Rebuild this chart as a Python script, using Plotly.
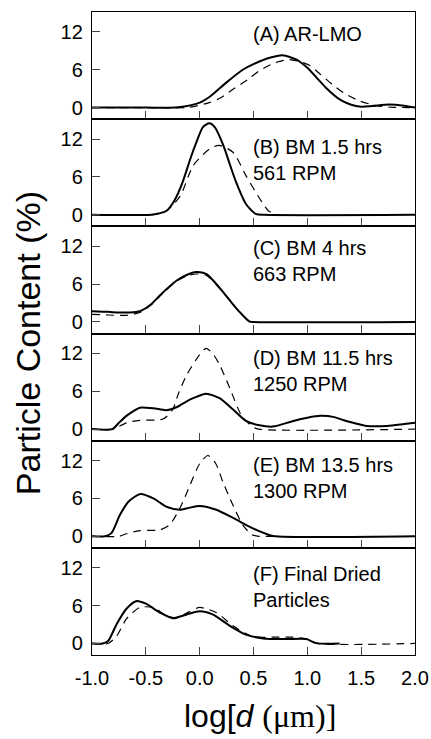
import plotly.graph_objects as go
from plotly.subplots import make_subplots

# ---------------- data ----------------
a_x_solid = [-1.0, -0.5, -0.2, 0.0, 0.1, 0.25, 0.4, 0.5, 0.65, 0.77, 0.9, 1.0, 1.17, 1.3, 1.4, 1.5, 1.6, 1.76, 1.9, 2.0]
a_y_solid = [0, 0, 0.05, 0.8, 1.8, 4.0, 6.0, 6.9, 7.9, 8.3, 7.6, 6.3, 3.2, 1.3, 0.5, 0.15, 0.25, 0.5, 0.3, 0]
a_x_dash = [-1.0, -0.5, -0.1, 0.09, 0.2, 0.31, 0.45, 0.56, 0.7, 0.83, 0.95, 1.02, 1.12, 1.23, 1.35, 1.48, 1.64, 1.8, 2.0]
a_y_dash = [0, 0, 0.05, 0.8, 1.6, 2.9, 4.5, 5.9, 7.1, 7.6, 7.2, 6.7, 5.3, 3.7, 2.2, 1.1, 0.3, 0.05, 0]

b_x_solid = [-1.0, -0.45, -0.38, -0.31, -0.23, -0.16, -0.08, -0.03, 0.03, 0.09, 0.14, 0.22, 0.28, 0.34, 0.43, 0.52, 0.6, 2.0]
b_y_solid = [0, 0, 0.2, 0.6, 2.4, 5.1, 9.2, 11.5, 13.9, 14.5, 13.9, 11.0, 8.0, 5.1, 1.7, 0.15, 0, 0]
b_x_dash = [-0.45, -0.31, -0.18, -0.06, 0.09, 0.18, 0.31, 0.43, 0.56, 0.64, 0.72]
b_y_dash = [0, 0.6, 3.0, 7.8, 10.4, 11.0, 9.9, 6.2, 2.5, 0.6, 0]

c_x_solid = [-1.0, -0.85, -0.75, -0.65, -0.556, -0.45, -0.37, -0.21, -0.1, -0.03, 0.06, 0.14, 0.22, 0.3, 0.37, 0.46, 0.5, 2.0]
c_y_solid = [1.7, 1.6, 1.5, 1.5, 1.7, 2.8, 4.2, 6.6, 7.6, 7.9, 7.6, 6.3, 4.7, 3.0, 1.6, 0.1, 0, 0]
c_x_dash = [-1.0, -0.85, -0.68, -0.556, -0.45, -0.37, -0.21, -0.1, -0.03, 0.06, 0.14, 0.22, 0.3, 0.37, 0.46, 0.5]
c_y_dash = [1.2, 1.1, 1.05, 1.5, 2.7, 4.1, 6.5, 7.4, 7.6, 7.4, 6.2, 4.6, 3.0, 1.6, 0.1, 0]

d_x_solid = [-1.0, -0.81, -0.75, -0.68, -0.6, -0.556, -0.43, -0.31, -0.21, -0.12, -0.06, 0.06, 0.185, 0.31, 0.43, 0.556, 0.68, 0.87, 1.0, 1.12, 1.25, 1.34, 1.45, 1.55, 1.74, 1.9, 2.0]
d_y_solid = [0, 0, 1.0, 2.1, 3.0, 3.4, 3.3, 3.0, 3.5, 4.4, 4.9, 5.6, 4.9, 3.1, 1.3, 0.6, 0.4, 1.3, 1.8, 2.1, 1.9, 1.4, 0.9, 0.5, 0.5, 0.8, 1.0]
d_x_dash = [-1.0, -0.81, -0.68, -0.556, -0.34, -0.25, -0.2, -0.12, 0.0, 0.06, 0.12, 0.185, 0.28, 0.39, 0.49, 0.55, 2.0]
d_y_dash = [0, 0, 1.0, 1.4, 1.6, 3.1, 5.5, 8.6, 11.8, 12.8, 12.0, 10.2, 6.5, 2.1, 0.4, 0, 0]

e_x_solid = [-1.0, -0.88, -0.82, -0.74, -0.66, -0.55, -0.43, -0.31, -0.185, -0.1, 0.0, 0.154, 0.31, 0.49, 0.6, 0.68, 2.0]
e_y_solid = [0, 0, 0.5, 3.4, 5.5, 6.7, 6.0, 4.7, 4.2, 4.5, 4.8, 4.2, 2.9, 1.3, 0.5, 0.05, 0]
e_x_dash = [-1.0, -0.75, -0.68, -0.556, -0.37, -0.28, -0.185, -0.09, 0.0, 0.077, 0.15, 0.216, 0.31, 0.4, 0.48, 0.55, 0.7]
e_y_dash = [0, 0, 0.4, 0.9, 1.0, 1.8, 4.4, 8.1, 11.5, 12.8, 11.5, 8.6, 4.9, 1.8, 0.3, 0, 0]

f_x_solid = [-1.0, -0.9, -0.85, -0.77, -0.68, -0.59, -0.5, -0.37, -0.25, -0.12, 0.0, 0.12, 0.28, 0.43, 0.59, 0.8, 0.99, 1.08, 1.3]
f_y_solid = [0, 0, 0.4, 3.1, 5.5, 6.7, 6.3, 4.9, 4.0, 4.6, 5.1, 4.6, 2.8, 1.4, 0.8, 0.7, 0.7, 0.05, 0]
f_x_dash = [-1.0, -0.85, -0.77, -0.68, -0.556, -0.43, -0.31, -0.21, -0.1, 0.0, 0.154, 0.31, 0.49, 0.71, 0.86, 0.99, 1.1, 2.0]
f_y_dash = [0, 0, 1.2, 3.9, 5.7, 5.7, 4.4, 4.1, 5.0, 5.7, 4.9, 2.8, 1.1, 1.0, 1.0, 0.7, 0, 0]

panel_labels = [
    "(A) AR-LMO",
    "(B) BM 1.5 hrs<br>561 RPM",
    "(C) BM 4 hrs<br>663 RPM",
    "(D) BM 11.5 hrs<br>1250 RPM",
    "(E) BM 13.5 hrs<br>1300 RPM",
    "(F) Final Dried<br>Particles",
]
label_y = [11.7, 8.7, 9.6, 9.25, 9.2, 9.0]

x_ticks = [-1.0, -0.5, 0.0, 0.5, 1.0, 1.5, 2.0]
x_tick_text = ["-1.0", "-0.5", "0.0", "0.5", "1.0", "1.5", "2.0"]
y_ticks = [0, 6, 12]

panels = [
    (a_x_solid, a_y_solid, a_x_dash, a_y_dash),
    (b_x_solid, b_y_solid, b_x_dash, b_y_dash),
    (c_x_solid, c_y_solid, c_x_dash, c_y_dash),
    (d_x_solid, d_y_solid, d_x_dash, d_y_dash),
    (e_x_solid, e_y_solid, e_x_dash, e_y_dash),
    (f_x_solid, f_y_solid, f_x_dash, f_y_dash),
]

FONT = "Liberation Sans, Arial, sans-serif"

fig = make_subplots(rows=6, cols=1, shared_xaxes=True, vertical_spacing=0)

for i, (xs, ys, xd, yd) in enumerate(panels):
    r = i + 1
    fig.add_trace(go.Scatter(x=xd, y=yd, mode="lines",
                             line=dict(color="black", width=1.2, dash="8px,6px", shape="spline", smoothing=0.7),
                             showlegend=False, hoverinfo="skip"), row=r, col=1)
    fig.add_trace(go.Scatter(x=xs, y=ys, mode="lines",
                             line=dict(color="black", width=2.0, shape="spline", smoothing=0.7),
                             showlegend=False, hoverinfo="skip"), row=r, col=1)
    fig.update_yaxes(range=[-1.83, 15.15], tickvals=y_ticks, ticks="inside", ticklen=8, tickwidth=1.3,
                     showline=True, mirror=True, linecolor="black", linewidth=1.3, showgrid=False,
                     zeroline=False, tickfont=dict(family=FONT, size=20, color="black"),
                     ticklabelstandoff=4, automargin=False, row=r, col=1)
    fig.update_xaxes(range=[-1.0, 2.0], tickvals=x_ticks, ticktext=x_tick_text, ticks="inside", ticklen=8,
                     tickwidth=1.3, showline=True, mirror=True, linecolor="black", linewidth=1.3,
                     showgrid=False, zeroline=False, showticklabels=(r == 6),
                     tickfont=dict(family=FONT, size=20, color="black"), ticklabelstandoff=5,
                     automargin=False, row=r, col=1)
    suffix = "" if r == 1 else str(r)
    fig.add_annotation(x=0.48, y=label_y[i], xref="x" + suffix, yref="y" + suffix,
                       text=panel_labels[i], showarrow=False, xanchor="left", yanchor="middle",
                       align="left", font=dict(family=FONT, size=20, color="black"))

fig.add_annotation(x=-0.198, y=0.485, xref="paper", yref="paper", text="Particle Content (%)",
                   textangle=-90, showarrow=False, xanchor="center", yanchor="middle",
                   font=dict(family=FONT, size=34, color="black"))
fig.add_annotation(x=0.52, y=-0.095, xref="paper", yref="paper",
                   text="log[<i>d</i> <span style=\"font-family:'Liberation Serif'\">(μm)]</span>",
                   showarrow=False, xanchor="center", yanchor="middle",
                   font=dict(family=FONT, size=32, color="black"))

fig.update_layout(width=431, height=739, margin=dict(l=92, r=16, t=12, b=84, autoexpand=False),
                  paper_bgcolor="white", plot_bgcolor="white")

fig.write_html("out.html")
